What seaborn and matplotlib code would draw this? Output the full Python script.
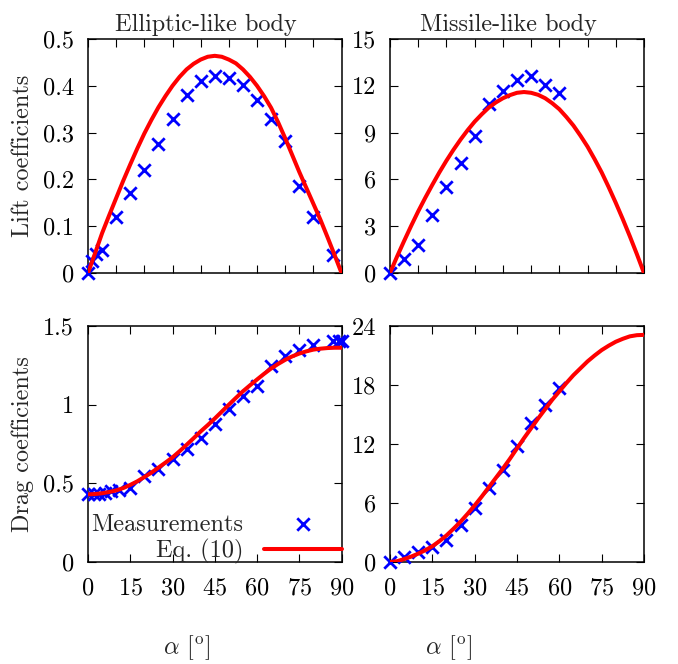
import numpy as np
import pandas as pd
import matplotlib
matplotlib.use('Agg')
import matplotlib.pyplot as plt
import matplotlib.ticker as ticker
import seaborn as sns

ell_lift_a = [0, 1.5, 3, 5, 10, 15, 20, 25, 30, 35, 40, 45, 50, 55, 60, 65, 70, 75, 80, 87]
ell_lift_c = [0.0, 0.025, 0.04, 0.05, 0.119, 0.17, 0.219, 0.275, 0.33, 0.38, 0.411, 0.421,
              0.416, 0.401, 0.37, 0.329, 0.281, 0.186, 0.119, 0.038]
mis_lift_a = [0, 5, 10, 15, 20, 25, 30, 35, 40, 45, 50, 55, 60]
mis_lift_c = [0.0, 0.92, 1.78, 3.7, 5.49, 7.07, 8.79, 10.84, 11.68, 12.34, 12.6, 12.06, 11.53]
ell_drag_a = [0, 2, 4, 6, 8, 11, 15, 20, 25, 30, 35, 40, 45, 50, 55, 60, 65, 70, 75, 80, 87, 89, 90]
ell_drag_c = [0.43, 0.43, 0.43, 0.44, 0.45, 0.46, 0.47, 0.547, 0.594, 0.653, 0.717, 0.79,
              0.877, 0.972, 1.053, 1.121, 1.245, 1.309, 1.345, 1.381, 1.404, 1.404, 1.404]
mis_drag_a = [0, 5, 10, 15, 20, 25, 30, 35, 40, 45, 50, 55, 60]
mis_drag_c = [0.0, 0.51, 0.98, 1.53, 2.27, 3.8, 5.49, 7.53, 9.39, 11.76, 14.1, 16.0, 17.7]

# Eq. (10) curves, read at 2.5 degree steps
eq_a = [0, 2.5, 5, 7.5, 10, 12.5, 15, 17.5, 20, 22.5, 25, 27.5, 30, 32.5, 35, 37.5, 40, 42.5,
        45, 47.5, 50, 52.5, 55, 57.5, 60, 62.5, 65, 67.5, 70, 72.5, 75, 77.5, 80, 82.5, 85, 87.5, 90]
ell_lift_eq = [0.0, 0.042, 0.085, 0.123, 0.16, 0.197, 0.232, 0.266, 0.298, 0.327, 0.354, 0.378,
               0.400, 0.419, 0.435, 0.447, 0.456, 0.462, 0.464, 0.462, 0.456, 0.448, 0.435, 0.419,
               0.400, 0.378, 0.353, 0.322, 0.288, 0.252, 0.216, 0.182, 0.148, 0.114, 0.077, 0.039, 0.0]
mis_lift_eq = [0.0, 1.05, 2.05, 3.02, 3.95, 4.82, 5.65, 6.45, 7.2, 7.9, 8.55, 9.15,
               9.7, 10.17, 10.6, 10.93, 11.2, 11.4, 11.55, 11.6, 11.55, 11.42, 11.2, 10.88,
               10.5, 10.0, 9.45, 8.8, 8.1, 7.3, 6.45, 5.5, 4.5, 3.45, 2.35, 1.2, 0.0]
ell_drag_eq = [0.43, 0.432, 0.437, 0.445, 0.455, 0.47, 0.49, 0.513, 0.54, 0.568, 0.60, 0.632,
               0.665, 0.704, 0.745, 0.787, 0.83, 0.87, 0.912, 0.956, 1.0, 1.043, 1.085, 1.123,
               1.16, 1.196, 1.23, 1.259, 1.285, 1.307, 1.325, 1.339, 1.35, 1.356, 1.36, 1.362, 1.362]
mis_drag_eq = [0.0, 0.08, 0.3, 0.55, 0.85, 1.2, 1.6, 2.12, 2.7, 3.38, 4.1, 4.9,
               5.75, 6.65, 7.6, 8.55, 9.5, 10.5, 11.55, 12.6, 13.6, 14.6, 15.55, 16.5,
               17.35, 18.2, 19.0, 19.7, 20.4, 21.0, 21.55, 22.0, 22.4, 22.7, 22.95, 23.07, 23.1]

sns.set_style('ticks')
plt.rcParams['font.family'] = ['cmr10', 'DejaVu Serif']
plt.rcParams['mathtext.fontset'] = 'cm'
plt.rcParams['axes.formatter.use_mathtext'] = True
plt.rcParams['font.size'] = 17.5
plt.rcParams['axes.linewidth'] = 1.1
plt.rcParams['xtick.direction'] = 'in'
plt.rcParams['ytick.direction'] = 'in'
plt.rcParams['xtick.top'] = True
plt.rcParams['ytick.right'] = True
plt.rcParams['xtick.major.size'] = 5.5
plt.rcParams['ytick.major.size'] = 5.5
plt.rcParams['xtick.color'] = 'black'
plt.rcParams['ytick.color'] = 'black'
plt.rcParams['axes.edgecolor'] = 'black'

fig = plt.figure(figsize=(6.78, 6.64), dpi=100)
ax_tl = fig.add_axes([0.1298, 0.5889, 0.3739, 0.3524])
ax_tr = fig.add_axes([0.5752, 0.5889, 0.3746, 0.3524])
ax_bl = fig.add_axes([0.1298, 0.1536, 0.3739, 0.3554])
ax_br = fig.add_axes([0.5752, 0.1536, 0.3746, 0.3554])

panels = [
    (ax_tl, ell_lift_a, ell_lift_c, ell_lift_eq, 0.5, 0.1),
    (ax_tr, mis_lift_a, mis_lift_c, mis_lift_eq, 15, 3),
    (ax_bl, ell_drag_a, ell_drag_c, ell_drag_eq, 1.5, 0.5),
    (ax_br, mis_drag_a, mis_drag_c, mis_drag_eq, 24, 6),
]

for ax, ma, mc, eq, ymax, ystep in panels:
    meas = pd.DataFrame({'alpha': ma, 'c': mc})
    curve = pd.DataFrame({'alpha': eq_a, 'c': eq})
    sns.scatterplot(data=meas, x='alpha', y='c', ax=ax, marker='x', color='blue',
                    s=80, linewidth=2.0, label='Measurements', clip_on=False, zorder=3)
    sns.lineplot(data=curve, x='alpha', y='c', ax=ax, color='red', linewidth=2.9,
                 sort=False, label='Eq. (10)', zorder=4)
    ax.set_xlim(0, 90)
    ax.set_ylim(0, ymax)
    ax.yaxis.set_major_locator(ticker.MultipleLocator(ystep))
    ax.yaxis.set_major_formatter(ticker.FormatStrFormatter('%g'))
    ax.tick_params(axis='y', pad=10)
    ax.set_xlabel('')
    ax.set_ylabel('')
    ax.get_legend().remove()

for ax in [ax_tl, ax_tr]:
    ax.xaxis.set_major_locator(ticker.MultipleLocator(10))
    ax.tick_params(axis='x', labelbottom=False)

for ax in [ax_bl, ax_br]:
    ax.xaxis.set_major_locator(ticker.MultipleLocator(15))
    ax.tick_params(axis='x', pad=11)

ax_tl.set_title('Elliptic-like body', fontsize=17.5, x=0.465, pad=6)
ax_tr.set_title('Missile-like body', fontsize=17.5, x=0.465, pad=6)

ax_tl.set_ylabel('Lift coefficients')
ax_tl.yaxis.set_label_coords(-0.215, 0.5)
ax_bl.set_ylabel('Drag coefficients')
ax_bl.yaxis.set_label_coords(-0.215, 0.5)

ax_bl.set_xlabel(r'$\alpha$ [$^{\rm o}$]')
ax_bl.xaxis.set_label_coords(0.389, -0.303)
ax_br.set_xlabel(r'$\alpha$ [$^{\rm o}$]')
ax_br.xaxis.set_label_coords(0.232, -0.303)

handles, labels = ax_bl.get_legend_handles_labels()
ax_bl.legend(handles, labels, loc='lower right', bbox_to_anchor=(1.0, -0.01),
             frameon=False, markerfirst=False, borderpad=0, borderaxespad=0,
             handlelength=3.2, handletextpad=0.85, labelspacing=0.15, fontsize=17.5)

fig.savefig('out.png', dpi=100)
